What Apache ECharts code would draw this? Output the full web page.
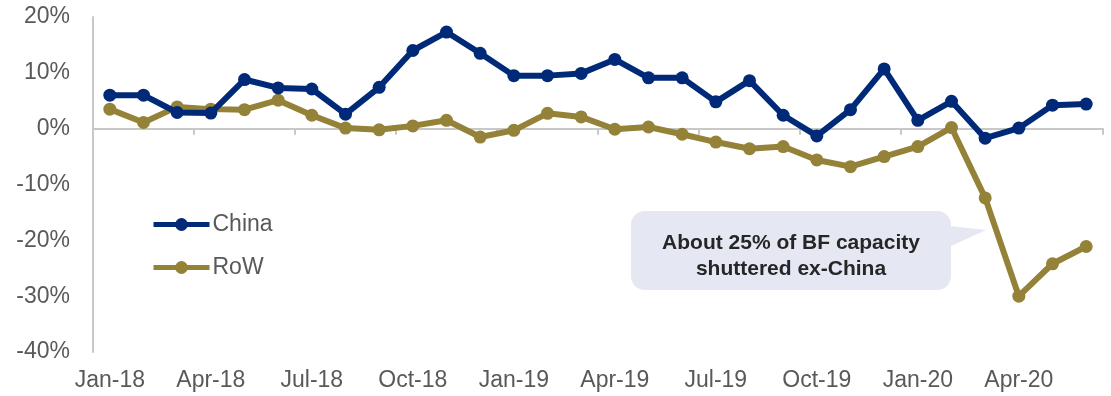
<!DOCTYPE html>
<html>
<head>
<meta charset="utf-8">
<script src="https://cdn.jsdelivr.net/npm/echarts@6/dist/echarts.min.js"></script>
<style>
  html, body { margin: 0; padding: 0; background: #ffffff; }
  #chart { width: 1111px; height: 396px; }
</style>
</head>
<body>
<div id="chart"></div>
<script>
// Monthly categories, Jan-18 to Jun-20
const months = [
  'Jan-18','Feb-18','Mar-18','Apr-18','May-18','Jun-18','Jul-18','Aug-18','Sep-18','Oct-18','Nov-18','Dec-18',
  'Jan-19','Feb-19','Mar-19','Apr-19','May-19','Jun-19','Jul-19','Aug-19','Sep-19','Oct-19','Nov-19','Dec-19',
  'Jan-20','Feb-20','Mar-20','Apr-20','May-20','Jun-20'
];

// Year-on-year change, %
const china = [
  6.0, 6.0, 2.9, 2.8, 8.8, 7.3, 7.1, 2.6, 7.4, 14.0, 17.3, 13.5,
  9.5, 9.5, 9.9, 12.4, 9.1, 9.1, 4.8, 8.6, 2.4, -1.3, 3.4, 10.7,
  1.5, 4.9, -1.7, 0.1, 4.2, 4.4
];
const row = [
  3.5, 1.1, 3.9, 3.5, 3.4, 5.1, 2.4, 0.1, -0.2, 0.5, 1.5, -1.5,
  -0.3, 2.75, 2.1, -0.1, 0.3, -1.0, -2.4, -3.6, -3.2, -5.6, -6.8, -5.0,
  -3.2, 0.2, -12.4, -30.0, -24.2, -21.1
];

const yTicks = { min: -40, max: 20, step: 10 };
const seriesNames = ['China', 'RoW'];
const calloutText = 'About 25% of BF capacity\nshuttered ex-China';

const FONT = '"Liberation Sans", Arial, sans-serif';
const NAVY = '#002A78';
const OLIVE = '#948238';
const AXIS_GREY = '#C8C8C8';
const LABEL_GREY = '#595959';

const chart = echarts.init(document.getElementById('chart'), null, { renderer: 'canvas' });

function lineSeries(name, data, color) {
  return {
    name: name,
    type: 'line',
    data: data,
    xAxisIndex: 0,
    yAxisIndex: 0,
    symbol: 'circle',
    symbolSize: 13,
    lineStyle: { color: color, width: 6 },
    itemStyle: { color: color },
    emphasis: { disabled: true },
    animation: false,
    z: name === 'China' ? 3 : 2
  };
}

chart.setOption({
  backgroundColor: '#ffffff',
  animation: false,
  textStyle: { fontFamily: FONT },
  grid: { left: 93, right: 8, top: 17, bottom: 44, containLabel: false },
  legend: {
    orient: 'vertical',
    left: 146,
    top: 208,
    itemWidth: 56,
    itemHeight: 16,
    itemGap: 20,
    data: seriesNames,
    lineStyle: { width: 5 },
    textStyle: { fontFamily: FONT, fontSize: 23, color: LABEL_GREY, padding: [0, 0, 0, -2] },
    selectedMode: false
  },
  xAxis: [
    {
      // category line drawn through zero, with tick marks every quarter
      type: 'category',
      data: months,
      position: 'bottom',
      boundaryGap: true,
      axisLine: { show: true, onZero: true, lineStyle: { color: AXIS_GREY, width: 2 } },
      axisTick: { show: true, interval: 2, length: 6, lineStyle: { color: AXIS_GREY, width: 2 } },
      axisLabel: { show: false },
      splitLine: { show: false }
    },
    {
      // quarter labels along the bottom edge
      type: 'category',
      data: months,
      position: 'bottom',
      boundaryGap: true,
      axisLine: { show: false, onZero: false },
      axisTick: { show: false },
      axisLabel: {
        show: true,
        interval: 2,
        margin: 17,
        fontFamily: FONT,
        fontSize: 23,
        color: LABEL_GREY
      },
      splitLine: { show: false }
    }
  ],
  yAxis: {
    type: 'value',
    min: yTicks.min,
    max: yTicks.max,
    interval: yTicks.step,
    axisLine: { show: true, lineStyle: { color: AXIS_GREY, width: 2 } },
    axisTick: { show: false },
    splitLine: { show: false },
    axisLabel: {
      formatter: '{value}%',
      margin: 23,
      fontFamily: FONT,
      fontSize: 23,
      color: LABEL_GREY
    }
  },
  series: [
    lineSeries(seriesNames[0], china, NAVY),
    lineSeries(seriesNames[1], row, OLIVE)
  ],
  graphic: [
    {
      type: 'group',
      z: 10,
      children: [
        {
          type: 'rect',
          shape: { x: 631, y: 211, width: 320, height: 79, r: 14 },
          style: { fill: '#E5E8F2' }
        },
        {
          type: 'polygon',
          shape: { points: [[949, 226], [986, 230], [949, 247]] },
          style: { fill: '#E5E8F2' }
        },
        {
          type: 'text',
          x: 791,
          y: 256,
          style: {
            text: calloutText,
            fontFamily: FONT,
            fontSize: 21,
            fontWeight: 'bold',
            lineHeight: 26,
            fill: '#262626',
            align: 'center',
            verticalAlign: 'middle'
          }
        }
      ]
    }
  ]
});
</script>
</body>
</html>
